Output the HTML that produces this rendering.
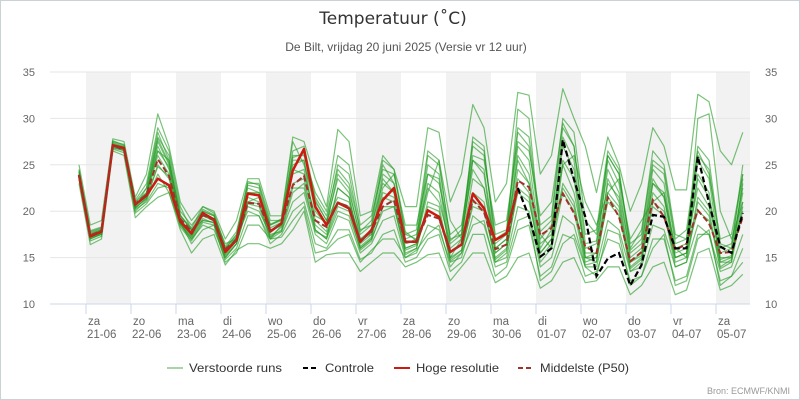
<!DOCTYPE html>
<html><head><meta charset="utf-8"><style>
html,body{margin:0;padding:0;background:#fff;}
svg{display:block;font-family:"Liberation Sans","DejaVu Sans",sans-serif;}
</style></head><body>
<svg id="chart" width="800" height="400" viewBox="0 0 800 400">
<rect x="0.5" y="0.5" width="799" height="399" fill="#fff" stroke="#c9d3d6"/>
<text x="393" y="24" text-anchor="middle" font-size="17" fill="#333" font-family="DejaVu Sans, sans-serif">Temperatuur (˚C)</text>
<text x="406" y="51" text-anchor="middle" font-size="12" fill="#555">De Bilt, vrijdag 20 juni 2025 (Versie vr 12 uur)</text>
<g id="bands"></g><g id="grid"></g><g id="ens"></g><g id="main"></g><g id="axes"></g>
<g font-size="12" fill="#333">
<g><line x1="167" y1="368" x2="183" y2="368" stroke="#a8d4a8" stroke-width="2"/><text x="189" y="372" textLength="93" lengthAdjust="spacingAndGlyphs">Verstoorde runs</text></g>
<g><line x1="303" y1="368" x2="319" y2="368" stroke="#000" stroke-width="2" stroke-dasharray="5,3"/><text x="325" y="372" textLength="49" lengthAdjust="spacingAndGlyphs">Controle</text></g>
<g><line x1="394" y1="368" x2="410" y2="368" stroke="#cc1a10" stroke-width="2"/><text x="416" y="372" textLength="83" lengthAdjust="spacingAndGlyphs">Hoge resolutie</text></g>
<g><line x1="518" y1="368" x2="534" y2="368" stroke="#a0322a" stroke-width="2" stroke-dasharray="5,3"/><text x="540" y="372" textLength="89" lengthAdjust="spacingAndGlyphs">Middelste (P50)</text></g>
</g>
<text x="790" y="394" text-anchor="end" font-size="9" fill="#999">Bron: ECMWF/KNMI</text>
</svg>
<script>
const yTicks=[10,15,20,25,30,35];
const dayNames=["za","zo","ma","di","wo","do","vr","za","zo","ma","di","wo","do","vr","za"];
const dayDates=["21-06","22-06","23-06","24-06","25-06","26-06","27-06","28-06","29-06","30-06","01-07","02-07","03-07","04-07","05-07"];
const hires=[23.9,17.3,17.8,27.1,26.8,20.7,21.7,23.5,22.8,18.9,17.6,19.8,19.1,15.6,16.9,21.9,21.7,17.8,18.7,24.4,26.7,20.5,18.5,20.9,20.3,16.7,18.0,21.2,22.5,16.7,16.7,20.1,19.4,15.6,16.4,21.9,20.3,16.9,17.6,22.5];
const controle=[null,null,null,null,null,null,null,null,null,null,null,null,null,null,null,null,null,null,null,null,null,null,null,null,null,null,null,null,null,null,null,null,null,null,null,null,null,null,null,22.5,19.4,15.1,16.0,27.7,23.4,19.4,13.0,14.9,15.5,12.0,14.2,19.6,19.4,16.0,16.0,25.9,20.9,16.2,15.5,19.8];
const p50=[23.9,17.4,17.9,27.1,26.6,20.8,21.8,25.6,23.8,19.2,17.8,19.6,19.0,15.9,16.9,20.9,20.8,17.9,18.6,22.8,23.8,19.0,18.3,20.9,20.5,16.8,17.8,20.5,21.2,16.6,16.8,19.6,19.2,15.6,16.4,21.2,19.9,15.9,16.4,23.3,22.6,17.4,18.2,21.9,19.8,16.2,15.5,21.5,19.4,14.6,15.6,21.2,19.4,15.8,16.5,20.1,18.7,15.5,15.6,19.4];
const e1=[25,18.5,19,27.8,27.5,21.5,24,30.5,27,21,19,20.5,20,17,19,23.5,23.5,19.5,19.5,28,27.5,23.5,20.5,28.8,27.5,19.5,20,26,24.5,20.5,20.5,29,28.5,21,24,31.5,29,21,23,32.8,32.5,24,26,33.2,30,27,22,28,25,20,23,29,27,22.3,22.3,32.6,31.8,26.5,25,28.5];
const e2=[23,16.4,17,26.5,26,19.3,20.5,21.5,22,18,15.5,17,17.5,14.2,15.8,16.5,16.5,16,16.5,18,20,14.5,15.3,15.5,15.5,13.5,14.5,15.5,15.5,14,14.5,15.3,15.5,12.5,14,15.5,15.5,12.3,13,15,15.5,11.7,12.5,14.5,15,12.3,12.5,14,14,11,12,14,14.5,11,11.5,15.5,16,11.5,12,13.2];
const e3=[24.5,17.8,18.2,27.4,27.0,20.5,22.5,28.5,25.5,19.5,18.0,19.0,18.8,15.5,17.2,20.0,19.5,17.0,18.5,25.5,25.5,18.0,17.0,22.5,21.5,16.0,17.0,23.5,22.0,16.0,16.5,24.0,23.5,15.0,17.0,25.5,24.0,15.5,16.5,26.0,24.0,16.0,18.0,27.0,24.5,15.0,14.5,23.5,21.0,14.0,15.0,23.0,21.5,15.0,15.5,24.0,22.0,14.5,14.5,23.5];
const e4=[23.5,17.0,17.5,26.9,26.5,20.0,21.2,24.0,22.0,18.5,17.0,18.5,18.0,15.0,16.5,20.5,20.0,17.5,17.8,21.0,22.0,17.5,16.5,19.5,19.0,15.5,16.5,19.0,19.5,15.0,15.5,18.5,18.0,14.5,15.0,19.5,18.5,14.5,15.0,20.5,20.0,14.0,15.0,19.5,18.5,14.0,14.0,19.0,18.0,13.5,14.0,18.5,18.0,14.0,14.5,18.5,17.5,13.5,14.0,17.5];
const e5=[24.2,17.6,18.0,27.2,26.9,20.6,22.0,27.0,24.5,19.0,17.5,20.0,19.5,16.0,17.5,22.5,22.0,18.5,19.0,24.5,24.0,19.5,18.8,23.5,22.0,17.5,18.5,23.0,22.0,17.0,17.5,22.5,21.0,16.5,17.5,24.5,22.5,16.5,17.5,25.5,23.0,17.0,18.5,25.0,22.0,16.0,16.5,24.5,22.0,15.5,16.5,23.5,21.5,16.0,16.5,22.5,20.5,15.5,16.0,22.5];
const e6=[23.8,17.2,17.7,27.0,26.7,20.3,21.5,26.0,24.0,18.8,17.3,19.5,19.0,15.3,16.8,21.5,21.0,17.3,18.3,23.0,23.5,18.5,17.5,21.0,20.5,16.2,17.2,21.5,21.0,15.5,16.0,21.0,20.5,14.8,15.8,22.0,21.0,14.8,15.8,23.5,22.0,15.0,16.5,23.0,21.0,14.5,15.0,22.0,20.5,13.8,14.8,22.0,20.5,14.5,15.0,21.5,20.0,14.0,14.8,21.0];
const e7=[24.0,17.5,18.0,27.3,26.9,21.0,22.5,28.0,26.0,20.0,18.5,20.0,19.5,16.5,17.0,22.0,22.0,18.0,18.5,26.5,27.0,21.5,19.5,24.5,23.0,18.0,18.5,25.0,23.0,17.5,17.0,26.0,25.0,17.0,17.5,27.0,26.0,17.5,18.0,29.0,28.0,18.5,19.5,30.0,28.5,19.0,17.5,26.0,24.0,16.5,17.5,26.5,25.0,17.5,17.0,27.0,25.5,16.5,16.0,25.0];
const e8=[23.6,17.0,17.6,26.8,26.6,20.2,21.0,23.0,22.5,18.3,16.8,18.8,18.5,14.8,16.0,19.5,19.5,16.5,17.5,20.0,21.0,16.5,16.0,18.0,18.0,14.8,15.5,17.5,18.0,14.5,15.0,17.0,17.5,13.5,14.5,17.5,17.5,13.0,14.0,18.0,18.5,13.0,14.0,17.5,17.0,13.0,13.5,17.0,16.5,12.5,13.0,17.0,17.0,12.5,13.0,17.5,17.5,12.5,13.0,16.0];
const e9=[24.3,17.7,18.1,27.5,27.2,21.0,22.0,26.5,25.5,19.5,18.2,20.5,19.8,16.2,17.8,23.0,23.0,19.0,19.0,26.0,26.0,22.0,20.0,26.0,25.0,18.5,19.5,24.5,24.0,18.5,18.5,24.0,23.0,17.5,18.5,26.0,25.5,18.5,19.0,27.5,26.5,19.5,21.0,29.5,27.0,17.5,18.0,26.5,24.5,16.0,18.0,25.5,24.5,17.0,18.0,26.5,24.0,17.0,17.5,24.0];
const e10=[23.7,17.1,17.5,27.0,26.7,20.4,21.3,25.0,23.5,18.6,17.2,19.2,18.7,15.2,16.5,21.0,20.8,17.2,18.0,22.5,22.5,18.0,17.0,20.0,19.5,16.0,17.0,20.0,20.5,15.8,16.3,20.0,19.5,15.0,15.8,20.5,20.0,15.0,16.0,22.0,21.0,15.5,17.0,22.5,20.5,15.0,15.0,21.0,19.5,14.5,15.2,20.5,19.5,15.0,15.5,20.0,19.0,14.8,15.2,20.0];
const e11=[24.1,17.4,17.9,27.2,26.8,20.7,21.8,27.5,25.0,19.2,17.6,19.8,19.2,15.8,17.2,22.8,22.5,18.2,18.8,25.0,25.5,20.0,18.5,24.0,22.5,17.0,18.0,24.0,23.0,16.5,17.0,25.0,24.0,16.0,17.0,25.5,24.5,16.0,17.0,27.0,25.5,16.5,17.5,28.0,25.5,15.5,15.5,25.5,23.0,15.0,16.0,24.5,23.0,15.5,16.0,25.5,23.5,15.0,15.0,23.0];
const e12=[23.9,17.3,17.8,27.1,26.8,20.6,21.6,26.5,24.8,19.0,17.4,19.6,19.0,15.5,16.8,22.0,21.8,17.8,18.5,24.0,24.5,19.0,17.8,22.5,21.5,16.5,17.5,22.0,21.5,16.0,16.5,23.0,22.0,15.5,16.5,23.5,22.5,15.5,16.5,24.5,23.0,15.5,17.0,25.5,23.5,15.0,15.5,23.0,21.5,14.5,15.5,23.0,22.0,15.0,15.5,23.5,21.5,14.5,15.0,22.0];
const e13=[24.4,17.9,18.3,27.6,27.1,21.2,23.0,29.0,26.5,20.5,18.0,19.5,19.0,15.8,17.0,21.0,21.5,18.5,19.2,27.5,25.0,21.0,19.0,21.5,21.0,17.0,17.5,22.5,24.0,17.8,16.8,22.0,25.5,19.0,17.0,28.0,27.0,16.0,17.0,31.0,30.0,17.5,16.0,25.0,26.0,21.0,18.5,22.0,23.5,17.0,19.0,21.0,22.0,16.0,15.0,30.0,30.5,20.0,17.0,21.0];
const e14=[23.4,16.8,17.3,26.7,26.3,19.8,20.8,22.5,22.8,18.8,16.5,18.0,18.5,14.5,15.5,18.5,18.5,17.0,17.2,19.0,20.5,15.5,15.8,17.0,17.5,14.5,15.8,17.0,17.0,15.0,15.8,17.5,18.5,14.0,15.5,18.5,19.0,14.0,14.5,19.0,19.5,12.5,13.5,16.5,17.5,14.0,13.0,18.0,17.5,12.0,13.0,16.0,17.5,12.0,12.5,17.0,18.0,12.0,13.0,14.5];
const e15=[24.0,17.4,17.9,27.1,26.8,20.6,21.9,27.8,25.2,19.6,17.9,20.2,19.6,16.0,17.4,23.2,22.8,18.6,19.1,25.8,26.2,21.2,19.0,25.0,24.0,17.8,19.0,25.5,24.5,17.5,18.0,26.5,25.5,16.8,18.0,27.5,26.5,17.0,17.8,28.5,27.0,17.8,19.0,29.0,27.0,16.5,16.8,26.0,24.0,15.8,17.0,25.0,24.0,16.5,17.0,26.0,24.5,16.0,16.5,24.0];
const e16=[23.8,17.2,17.6,27.0,26.6,20.4,21.4,24.8,23.8,18.7,17.0,19.0,18.8,15.0,16.5,20.8,20.5,17.0,17.8,22.0,23.0,17.8,17.2,20.5,20.0,15.8,16.8,20.5,20.5,15.3,16.0,20.5,20.0,14.6,15.5,21.0,20.5,14.5,15.5,22.5,21.5,14.5,16.0,22.0,20.0,14.2,14.5,21.5,20.0,13.5,14.5,21.0,20.0,14.0,14.5,21.0,19.5,13.8,14.5,20.5];
const members=[e1,e2,e3,e4,e5,e6,e7,e8,e9,e10,e11,e12,e13,e14,e15,e16];

const NS="http://www.w3.org/2000/svg";
const X0=50,X1=750,Y0=304,Y1=72,TMIN=10,TMAX=35;
const firstX=79,stepX=11.25,firstTick=86,dayW=45;
function xs(i){return firstX+i*stepX;}
function ys(t){return Y0-(t-TMIN)/(TMAX-TMIN)*(Y0-Y1);}
function mk(tag,attrs,parent){const e=document.createElementNS(NS,tag);for(const k in attrs)e.setAttribute(k,attrs[k]);parent.appendChild(e);return e;}
const bands=document.getElementById('bands'),grid=document.getElementById('grid'),ens=document.getElementById('ens'),main=document.getElementById('main'),axes=document.getElementById('axes');
for(let d=0;d<dayNames.length;d+=2){
  const x=firstTick+d*dayW;const w=Math.min(dayW,X1-x);
  const r=mk('rect',{x:x,y:Y1,width:w,height:Y0-Y1,fill:'#f2f2f2'},bands);
  
  
}
yTicks.forEach(t=>{
  const l=mk('line',{x1:X0,x2:X1,y1:ys(t),y2:ys(t),stroke:t===10?'#ccd6eb':'#e6e6e6','stroke-width':1},grid);
  
  
  const a=mk('text',{x:35,y:ys(t)+4,'text-anchor':'end','font-size':11,fill:'#666'},axes);a.textContent=t;
  
  
  const b=mk('text',{x:765,y:ys(t)+4,'text-anchor':'start','font-size':11,fill:'#666'},axes);b.textContent=t;
  
  
});
dayNames.forEach((n,d)=>{
  const x=firstTick+d*dayW;
  const tk=mk('line',{x1:x,x2:x,y1:Y0,y2:Y0+10,stroke:'#ccd6eb'},axes);
  
  
  const t1=mk('text',{x:x+2,y:Y0+21,'font-size':11.5,fill:'#666'},axes);t1.textContent=n;
  
  
  const t2=mk('text',{x:x+1,y:Y0+34,'font-size':11.5,fill:'#666'},axes);t2.textContent=dayDates[d];
  
  
});
function pathOf(arr){let d='',pen=false;arr.forEach((v,i)=>{if(v===null||v===undefined){pen=false;return;}d+=(pen?'L':'M')+xs(i).toFixed(1)+','+ys(v).toFixed(1);pen=true;});return d;}
members.forEach(m=>{
  const p=mk('path',{d:pathOf(m),fill:'none',stroke:'#1f9a1f','stroke-opacity':0.6,'stroke-width':1.2,'stroke-linejoin':'round'},ens);
  
  
});
const ph=mk('path',{d:pathOf(hires),fill:'none',stroke:'#cc1a10','stroke-width':2.5,'stroke-linejoin':'round'},main);


const pp=mk('path',{d:pathOf(p50),fill:'none',stroke:'#a0322a','stroke-width':2,'stroke-dasharray':'6,3'},main);


const pc=mk('path',{d:pathOf(controle),fill:'none',stroke:'#000','stroke-width':2.2,'stroke-dasharray':'6,3'},main);


</script>
</body></html>
